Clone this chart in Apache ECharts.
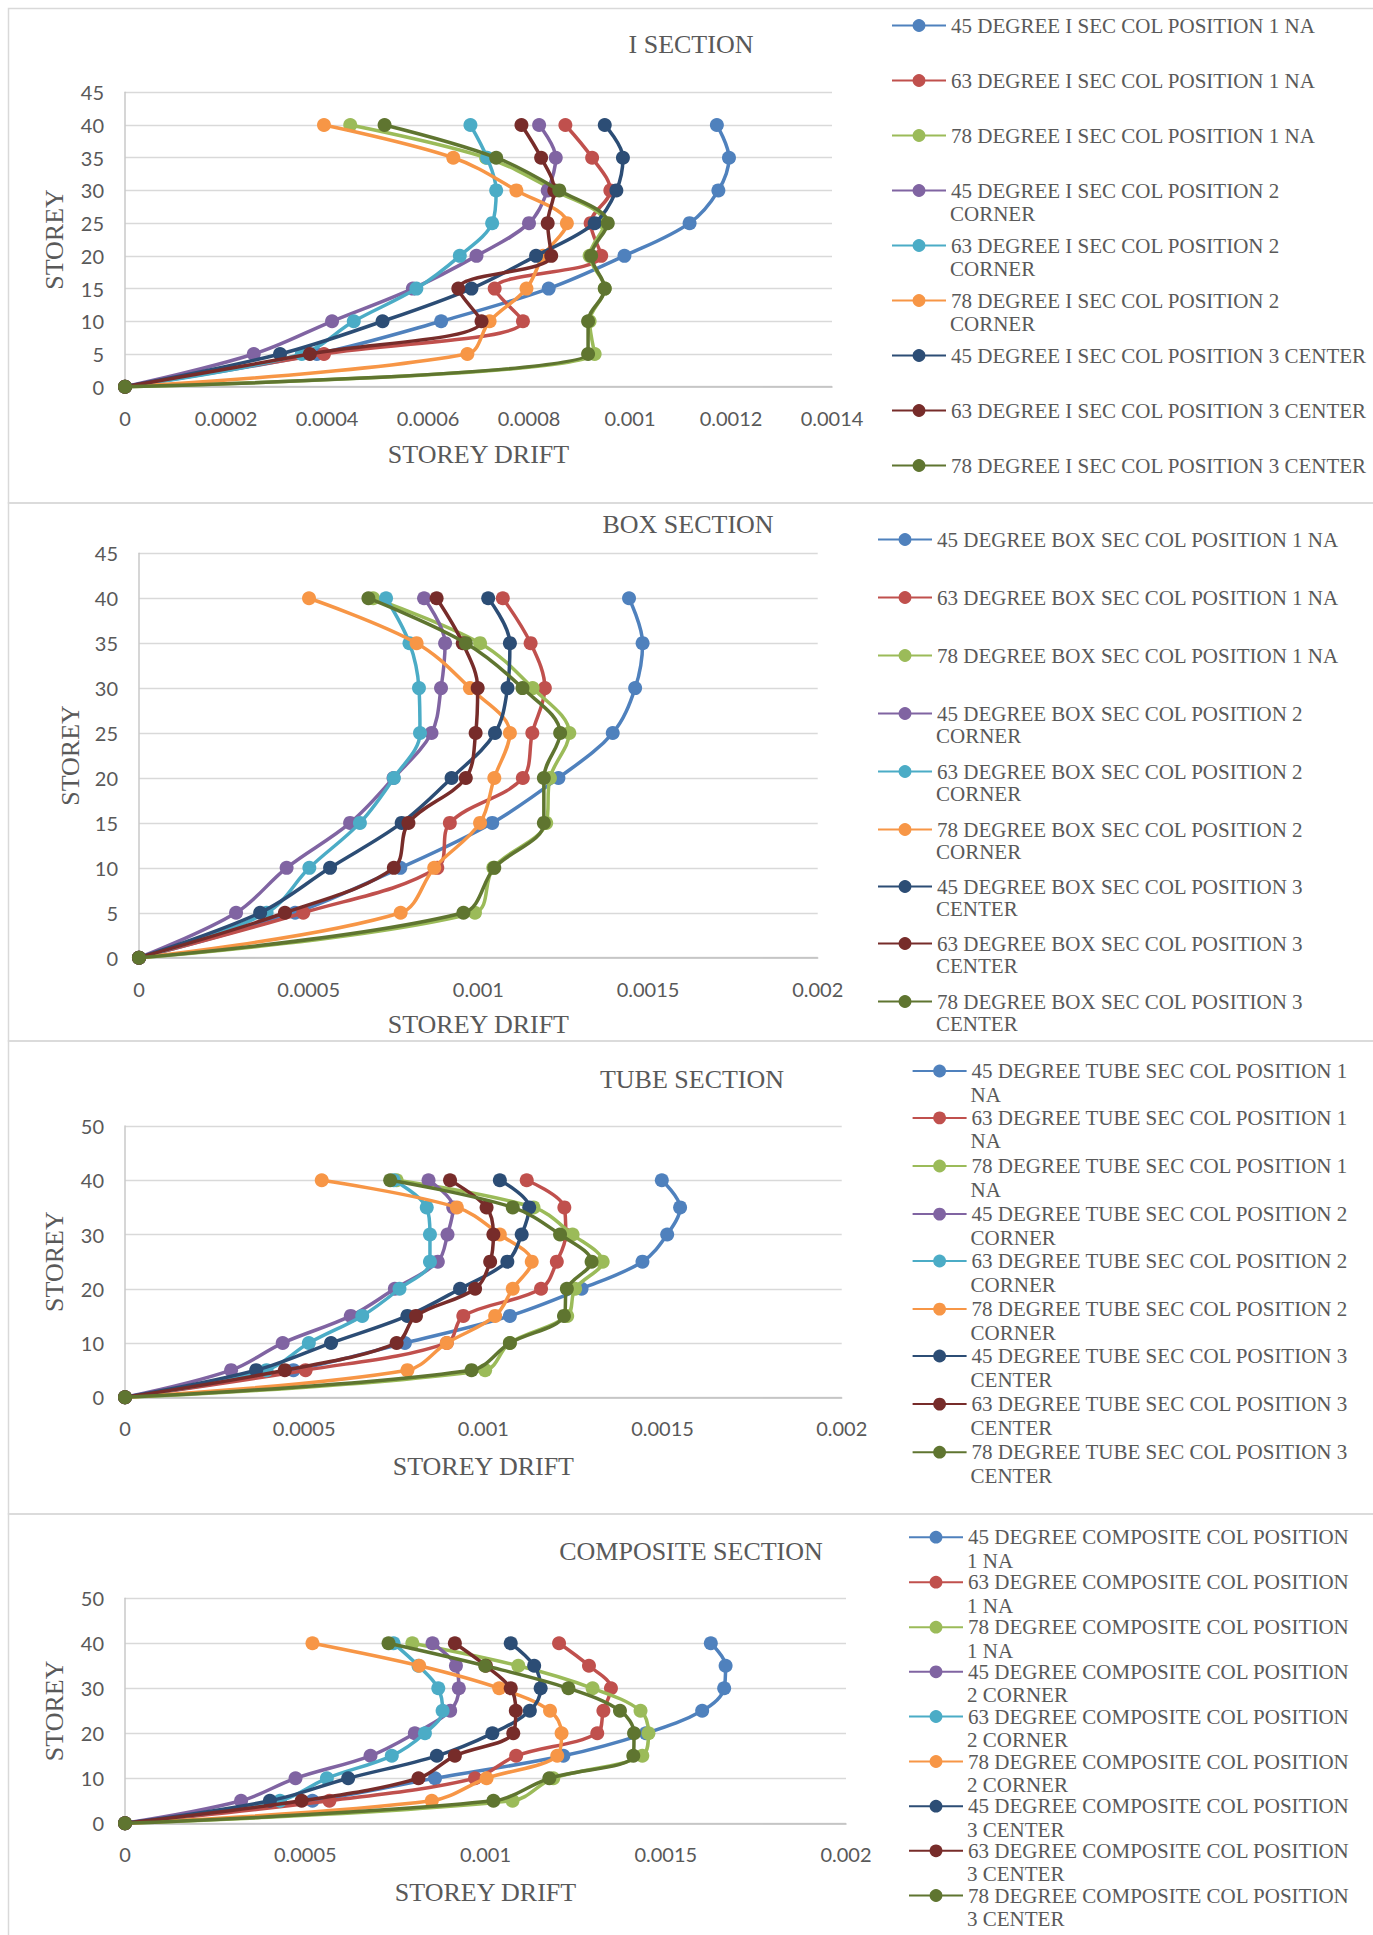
<!DOCTYPE html>
<html>
<head>
<meta charset="utf-8">
<script src="https://cdn.jsdelivr.net/npm/echarts@6/dist/echarts.min.js"></script>
<style>
html,body{margin:0;padding:0;background:#fff;}
#chart{width:1373px;height:1935px;}
</style>
</head>
<body>
<div id="chart"></div>
<script>
// ---------------- DATA ----------------
const storeys = [0, 5, 10, 15, 20, 25, 30, 35, 40];

// I SECTION
const I_45_P1 = [0, 0.00038, 0.000626, 0.000839, 0.000989, 0.001118, 0.001175, 0.001196, 0.001172];
const I_63_P1 = [0, 0.000394, 0.000788, 0.000732, 0.000943, 0.000922, 0.000961, 0.000925, 0.000872];
const I_78_P1 = [0, 0.00093, 0.00092, 0.00095, 0.00092, 0.00095, 0.00085, 0.000715, 0.000446];
const I_45_P2 = [0, 0.000255, 0.00041, 0.00057, 0.000696, 0.0008, 0.000837, 0.000853, 0.00082];
const I_63_P2 = [0, 0.00035, 0.000453, 0.000577, 0.000663, 0.000727, 0.000735, 0.000717, 0.000684];
const I_78_P2 = [0, 0.000678, 0.000722, 0.000795, 0.000828, 0.000875, 0.000775, 0.00065, 0.000394];
const I_45_P3 = [0, 0.000307, 0.00051, 0.000686, 0.000814, 0.00093, 0.000973, 0.000986, 0.00095];
const I_63_P3 = [0, 0.000366, 0.000706, 0.00066, 0.000844, 0.000837, 0.00085, 0.000824, 0.000785];
const I_78_P3 = [0, 0.000917, 0.000917, 0.00095, 0.000923, 0.000956, 0.00086, 0.000735, 0.000514];

// BOX SECTION
const B_45_P1 = [0, 0.00046, 0.00077, 0.001041, 0.001236, 0.001396, 0.001462, 0.001484, 0.001444];
const B_63_P1 = [0, 0.000484, 0.000879, 0.000916, 0.001131, 0.001159, 0.001196, 0.001154, 0.001072];
const B_78_P1 = [0, 0.00099, 0.001044, 0.0012, 0.001211, 0.001268, 0.00116, 0.001005, 0.00069];
const B_45_P2 = [0, 0.000286, 0.000435, 0.000622, 0.00075, 0.000862, 0.00089, 0.000902, 0.00084];
const B_63_P2 = [0, 0.000376, 0.000502, 0.000651, 0.000751, 0.000828, 0.000825, 0.000797, 0.000728];
const B_78_P2 = [0, 0.000771, 0.00087, 0.001005, 0.001047, 0.001093, 0.000975, 0.000818, 0.000501];
const B_45_P3 = [0, 0.000357, 0.000563, 0.000774, 0.000921, 0.001049, 0.001086, 0.001093, 0.001029];
const B_63_P3 = [0, 0.00043, 0.000751, 0.000794, 0.000963, 0.000992, 0.000998, 0.000954, 0.000877];
const B_78_P3 = [0, 0.000956, 0.001047, 0.001193, 0.001193, 0.001241, 0.00113, 0.000963, 0.000676];

// TUBE SECTION
const T_45_P1 = [0, 0.00047, 0.000781, 0.001074, 0.001274, 0.001444, 0.001513, 0.001549, 0.001498];
const T_63_P1 = [0, 0.000504, 0.000898, 0.000944, 0.001161, 0.001205, 0.00123, 0.001226, 0.001121];
const T_78_P1 = [0, 0.001005, 0.001074, 0.001234, 0.001256, 0.001333, 0.001249, 0.00114, 0.000758];
const T_45_P2 = [0, 0.000296, 0.00044, 0.00063, 0.000753, 0.000873, 0.0009, 0.000916, 0.000847];
const T_63_P2 = [0, 0.000395, 0.000513, 0.000662, 0.000766, 0.000851, 0.000851, 0.000842, 0.00075];
const T_78_P2 = [0, 0.000788, 0.000898, 0.001033, 0.001082, 0.001135, 0.001046, 0.000926, 0.000549];
const T_45_P3 = [0, 0.000366, 0.000575, 0.000788, 0.000935, 0.001067, 0.001107, 0.001128, 0.001046];
const T_63_P3 = [0, 0.000446, 0.000758, 0.000812, 0.000977, 0.001019, 0.001028, 0.001009, 0.000907];
const T_78_P3 = [0, 0.000967, 0.001074, 0.001225, 0.001233, 0.001302, 0.001214, 0.001082, 0.00074];

// COMPOSITE SECTION
const C_45_P1 = [0, 0.00052, 0.00086, 0.001216, 0.001445, 0.001601, 0.001662, 0.001666, 0.001625];
const C_63_P1 = [0, 0.000567, 0.000971, 0.001085, 0.00131, 0.001327, 0.001348, 0.001287, 0.001204];
const C_78_P1 = [0, 0.001075, 0.001188, 0.001435, 0.001452, 0.00143, 0.001297, 0.001091, 0.000797];
const C_45_P2 = [0, 0.000322, 0.000473, 0.000681, 0.000804, 0.000902, 0.000926, 0.000918, 0.000853];
const C_63_P2 = [0, 0.00043, 0.00056, 0.00074, 0.000832, 0.000881, 0.000869, 0.000814, 0.000745];
const C_78_P2 = [0, 0.000851, 0.001003, 0.001199, 0.001211, 0.001179, 0.001038, 0.000816, 0.00052];
const C_45_P3 = [0, 0.000402, 0.000619, 0.000865, 0.001019, 0.001123, 0.001153, 0.001135, 0.00107];
const C_63_P3 = [0, 0.00049, 0.000814, 0.000915, 0.001077, 0.001084, 0.00107, 0.001001, 0.000915];
const C_78_P3 = [0, 0.001022, 0.001177, 0.00141, 0.001412, 0.001373, 0.00123, 0.000999, 0.000731];

// Legend labels (line breaks as in the original legend)
const I_LABELS = [
  "45 DEGREE I SEC COL POSITION 1 NA", "63 DEGREE I SEC COL POSITION 1 NA", "78 DEGREE I SEC COL POSITION 1 NA",
  "45 DEGREE I SEC COL POSITION 2\nCORNER", "63 DEGREE I SEC COL POSITION 2\nCORNER", "78 DEGREE I SEC COL POSITION 2\nCORNER",
  "45 DEGREE I SEC COL POSITION 3 CENTER", "63 DEGREE I SEC COL POSITION 3 CENTER", "78 DEGREE I SEC COL POSITION 3 CENTER"
];
const B_LABELS = [
  "45 DEGREE BOX SEC COL POSITION 1 NA", "63 DEGREE BOX SEC COL POSITION 1 NA", "78 DEGREE BOX SEC COL POSITION 1 NA",
  "45 DEGREE BOX SEC COL POSITION 2\nCORNER", "63 DEGREE BOX SEC COL POSITION 2\nCORNER", "78 DEGREE BOX SEC COL POSITION 2\nCORNER",
  "45 DEGREE BOX SEC COL POSITION 3\nCENTER", "63 DEGREE BOX SEC COL POSITION 3\nCENTER", "78 DEGREE BOX SEC COL POSITION 3\nCENTER"
];
const T_LABELS = [
  "45 DEGREE TUBE SEC COL POSITION 1\nNA", "63 DEGREE TUBE SEC COL POSITION 1\nNA", "78 DEGREE TUBE SEC COL POSITION 1\nNA",
  "45 DEGREE TUBE SEC COL POSITION 2\nCORNER", "63 DEGREE TUBE SEC COL POSITION 2\nCORNER", "78 DEGREE TUBE SEC COL POSITION 2\nCORNER",
  "45 DEGREE TUBE SEC COL POSITION 3\nCENTER", "63 DEGREE TUBE SEC COL POSITION 3\nCENTER", "78 DEGREE TUBE SEC COL POSITION 3\nCENTER"
];
const C_LABELS = [
  "45 DEGREE COMPOSITE COL POSITION\n1 NA", "63 DEGREE COMPOSITE COL POSITION\n1 NA", "78 DEGREE COMPOSITE COL POSITION\n1 NA",
  "45 DEGREE COMPOSITE COL POSITION\n2 CORNER", "63 DEGREE COMPOSITE COL POSITION\n2 CORNER", "78 DEGREE COMPOSITE COL POSITION\n2 CORNER",
  "45 DEGREE COMPOSITE COL POSITION\n3 CENTER", "63 DEGREE COMPOSITE COL POSITION\n3 CENTER", "78 DEGREE COMPOSITE COL POSITION\n3 CENTER"
];
const TITLES = ["I SECTION", "BOX SECTION", "TUBE SECTION", "COMPOSITE SECTION"];
const X_NAME = "STOREY DRIFT";
const Y_NAME = "STOREY";

// ---------------- STYLE / LAYOUT ----------------
const COLORS = ['#4F81BD', '#C0504D', '#9BBB59', '#8064A2', '#4BACC6', '#F79646', '#2C4D75', '#772C2A', '#5F7530'];
const SERIF = '"Liberation Serif", "Times New Roman", serif';
const SANS = 'Lato, "Liberation Sans", sans-serif';
const TXT = '#595959';
const LEG_FS = 21;
const LEG_BOX = 18;
const ICON_W = 54;

const panels = [
  { title: TITLES[0], tx: 691, ty: 44, labels: I_LABELS,
    data: [I_45_P1, I_63_P1, I_78_P1, I_45_P2, I_63_P2, I_78_P2, I_45_P3, I_63_P3, I_78_P3],
    grid: { left: 125, top: 92.3, width: 707, height: 294.4 }, xMax: 0.0014, xInt: 0.0002, yMax: 45, yInt: 5,
    xGap: 53, yGap: 54.5, legLeft: 891, legLH: 25, legY: [24, 79, 134, 189, 244, 299, 354, 409, 464],
    box: [8.5, 8.5, 1400, 494.5] },
  { title: TITLES[1], tx: 688, ty: 524, labels: B_LABELS,
    data: [B_45_P1, B_63_P1, B_78_P1, B_45_P2, B_63_P2, B_78_P2, B_45_P3, B_63_P3, B_78_P3],
    grid: { left: 139, top: 553.3, width: 678.7, height: 404.4 }, xMax: 0.002, xInt: 0.0005, yMax: 45, yInt: 5,
    xGap: 51.3, yGap: 54, legLeft: 877, legLH: 24, legY: [538, 596, 654, 712, 770, 828, 885, 942, 1000],
    box: [8.5, 503, 1400, 538] },
  { title: TITLES[2], tx: 692, ty: 1079, labels: T_LABELS,
    data: [T_45_P1, T_63_P1, T_78_P1, T_45_P2, T_63_P2, T_78_P2, T_45_P3, T_63_P3, T_78_P3],
    grid: { left: 125, top: 1126, width: 716.7, height: 271.3 }, xMax: 0.002, xInt: 0.0005, yMax: 50, yInt: 10,
    xGap: 54.4, yGap: 54.5, legLeft: 911.6, legLH: 25, legY: [1069.5, 1116.4, 1164.5, 1212.6, 1259.5, 1307.6, 1354.5, 1402.6, 1450.7],
    box: [8.5, 1041, 1400, 473] },
  { title: TITLES[3], tx: 691, ty: 1551, labels: C_LABELS,
    data: [C_45_P1, C_63_P1, C_78_P1, C_45_P2, C_63_P2, C_78_P2, C_45_P3, C_63_P3, C_78_P3],
    grid: { left: 125, top: 1598.3, width: 721, height: 225 }, xMax: 0.002, xInt: 0.0005, yMax: 50, yInt: 10,
    xGap: 53.7, yGap: 54.5, legLeft: 908, legLH: 25, legY: [1535.7, 1580.7, 1625.7, 1670.3, 1715, 1760, 1804.7, 1849.3, 1894],
    box: [8.5, 1514, 1400, 440] }
];

// ---------------- BUILD OPTION ----------------
const option = {
  animation: false,
  backgroundColor: '#ffffff',
  title: [], grid: [], xAxis: [], yAxis: [], series: [], legend: [], graphic: []
};

panels.forEach((p, pi) => {
  option.graphic.push({
    type: 'rect', silent: true, z: -10,
    shape: { x: p.box[0], y: p.box[1], width: p.box[2], height: p.box[3] },
    style: { fill: 'none', stroke: '#D9D9D9', lineWidth: 1.5 }
  });
  option.title.push({
    text: p.title, left: p.tx, top: p.ty - 15, textAlign: 'center', padding: 0,
    textStyle: { fontFamily: SERIF, fontSize: 26, fontWeight: 'normal', color: TXT, lineHeight: 30 }
  });
  option.grid.push(Object.assign({ containLabel: false }, p.grid));
  option.xAxis.push({
    type: 'value', gridIndex: pi, min: 0, max: p.xMax, interval: p.xInt,
    name: X_NAME, nameLocation: 'middle', nameGap: p.xGap,
    nameTextStyle: { fontFamily: SERIF, fontSize: 26, color: TXT, lineHeight: 30 },
    axisLine: { show: true, lineStyle: { color: '#BFBFBF', width: 1.5 } },
    axisTick: { show: false },
    splitLine: { show: false },
    axisLabel: { margin: 21, fontFamily: SANS, fontSize: 20, color: TXT,
      formatter: v => String(+v.toFixed(5)) }
  });
  option.yAxis.push({
    type: 'value', gridIndex: pi, min: 0, max: p.yMax, interval: p.yInt,
    name: Y_NAME, nameLocation: 'middle', nameGap: p.yGap, nameRotate: 90,
    nameTextStyle: { fontFamily: SERIF, fontSize: 26, color: TXT, lineHeight: 30 },
    axisLine: { show: true, lineStyle: { color: '#C8C8C8', width: 1.5 } },
    axisTick: { show: false },
    splitLine: { show: true, lineStyle: { color: '#D9D9D9', width: 1.3 } },
    axisLabel: { margin: 21, fontFamily: SANS, fontSize: 20, color: TXT }
  });
  p.labels.forEach((lab, si) => {
    const parts = lab.split('\n');
    const name = parts.join(' ');
    const vals = p.data[si];
    option.series.push({
      type: 'line', name: name, xAxisIndex: pi, yAxisIndex: pi,
      data: storeys.map((s, k) => [vals[k], s]),
      smooth: 0.35, symbol: 'circle', symbolSize: 14, showSymbol: true,
      color: COLORS[si], lineStyle: { width: 3.5, color: COLORS[si] },
      itemStyle: { color: COLORS[si] }, clip: false, z: 2 + si
    });
    const cy = p.legY[si];
    option.legend.push({
      data: [name], orient: 'vertical', left: p.legLeft, top: cy - LEG_BOX / 2,
      padding: 0, itemGap: 0, itemWidth: ICON_W, itemHeight: 16, selectedMode: false,
      formatter: () => parts[0],
      textStyle: { fontFamily: SERIF, fontSize: LEG_FS, color: TXT, lineHeight: LEG_BOX }
    });
    if (parts.length > 1) {
      option.graphic.push({
        type: 'text', silent: true, x: p.legLeft + ICON_W + 5, y: cy + p.legLH,
        style: { text: parts[1], fill: TXT, font: LEG_FS + 'px "Liberation Serif", serif',
          align: 'left', verticalAlign: 'middle', lineHeight: LEG_BOX }
      });
    }
  });
});

const chart = echarts.init(document.getElementById('chart'), null, { renderer: 'svg', width: 1373, height: 1935 });
chart.setOption(option);
</script>
</body>
</html>
